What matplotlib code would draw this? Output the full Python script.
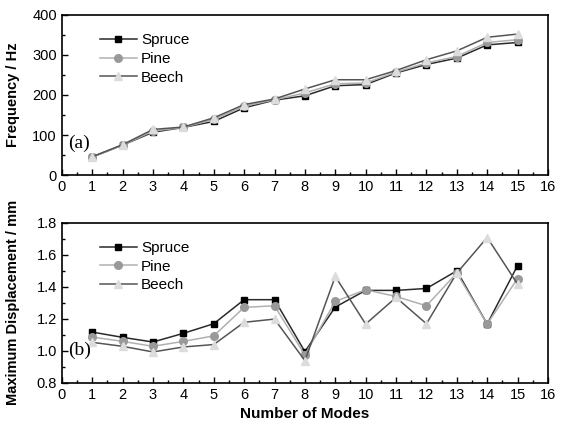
import numpy as np
import matplotlib.pyplot as plt
from matplotlib.ticker import MultipleLocator

plt.rcParams['font.family'] = ['Liberation Sans', 'DejaVu Sans']

modes = np.arange(1, 16)

# Frequencia (Hz)
freq_spruce = [45, 75, 107, 119, 134, 168, 187, 198, 223, 226, 255, 276, 292, 325, 331]
freq_pine = [45, 75, 110, 119, 139, 172, 188, 205, 228, 230, 257, 280, 296, 331, 338]
freq_beech = [46, 76, 114, 120, 143, 176, 190, 215, 238, 238, 261, 288, 310, 344, 352]

# Deslocamento maximo (mm)
disp_spruce = [1.117, 1.084, 1.055, 1.109, 1.169, 1.319, 1.319, 0.995, 1.273, 1.377, 1.377, 1.389, 1.499, 1.167, 1.532]
disp_pine = [1.086, 1.059, 1.028, 1.059, 1.093, 1.271, 1.281, 0.974, 1.308, 1.381, 1.339, 1.281, 1.485, 1.167, 1.451]
disp_beech = [1.053, 1.028, 0.993, 1.024, 1.039, 1.178, 1.198, 0.939, 1.464, 1.167, 1.333, 1.169, 1.485, 1.707, 1.416]

estilos = [
    ('Spruce', dict(color='#2a2a2a', marker='s', mfc='black', mec='black', ms=5)),
    ('Pine', dict(color='#b0b0b0', marker='o', mfc='#999999', mec='#999999', ms=5.5)),
    ('Beech', dict(color='#555555', marker='^', mfc='#dcdcdc', mec='#dcdcdc', ms=6)),
]

fig = plt.figure(figsize=(5.62, 4.24), dpi=100)
ax1 = fig.add_axes([0.110, 0.587, 0.865, 0.378])
ax2 = fig.add_axes([0.110, 0.097, 0.865, 0.378])


def formata(ax, ymin, ymax, ymaj, ymin_step, rotulo, letra):
    ax.set_xlim(0, 16)
    ax.set_ylim(ymin, ymax)
    ax.xaxis.set_major_locator(MultipleLocator(1))
    ax.xaxis.set_minor_locator(MultipleLocator(0.5))
    ax.yaxis.set_major_locator(MultipleLocator(ymaj))
    ax.yaxis.set_minor_locator(MultipleLocator(ymin_step))
    ax.tick_params(which='both', direction='in', top=False, right=False, labelsize=10.5)
    ax.tick_params(which='major', length=4, width=1)
    ax.tick_params(which='minor', length=2.5, width=1)
    for s in ax.spines.values():
        s.set_linewidth(1.2)
    ax.set_ylabel(rotulo, fontsize=10.5, fontweight='bold')
    ax.text(0.012, 0.2, letra, transform=ax.transAxes, fontsize=14,
            family='Liberation Serif', va='center')
    ax.legend(loc='upper left', bbox_to_anchor=(0.05, 0.97), frameon=False,
              fontsize=11, handlelength=2.4, labelspacing=0.3, handletextpad=0.3)


for (nome, kw), dados in zip(estilos, [freq_spruce, freq_pine, freq_beech]):
    ax1.plot(modes, dados, lw=1.1, label=nome, **kw)
formata(ax1, 0, 400, 100, 50, 'Frequency / Hz', '(a)')

for (nome, kw), dados in zip(estilos, [disp_spruce, disp_pine, disp_beech]):
    ax2.plot(modes, dados, lw=1.1, label=nome, **kw)
formata(ax2, 0.8, 1.8, 0.2, 0.1, 'Maximum Displacement / mm', '(b)')
ax2.yaxis.set_major_formatter(plt.FormatStrFormatter('%.1f'))
ax2.set_xlabel('Number of Modes', fontsize=11, fontweight='bold')

ax1.yaxis.set_label_coords(-0.085, 0.5)
ax2.yaxis.set_label_coords(-0.085, 0.5)

plt.savefig('out.png', dpi=100)
